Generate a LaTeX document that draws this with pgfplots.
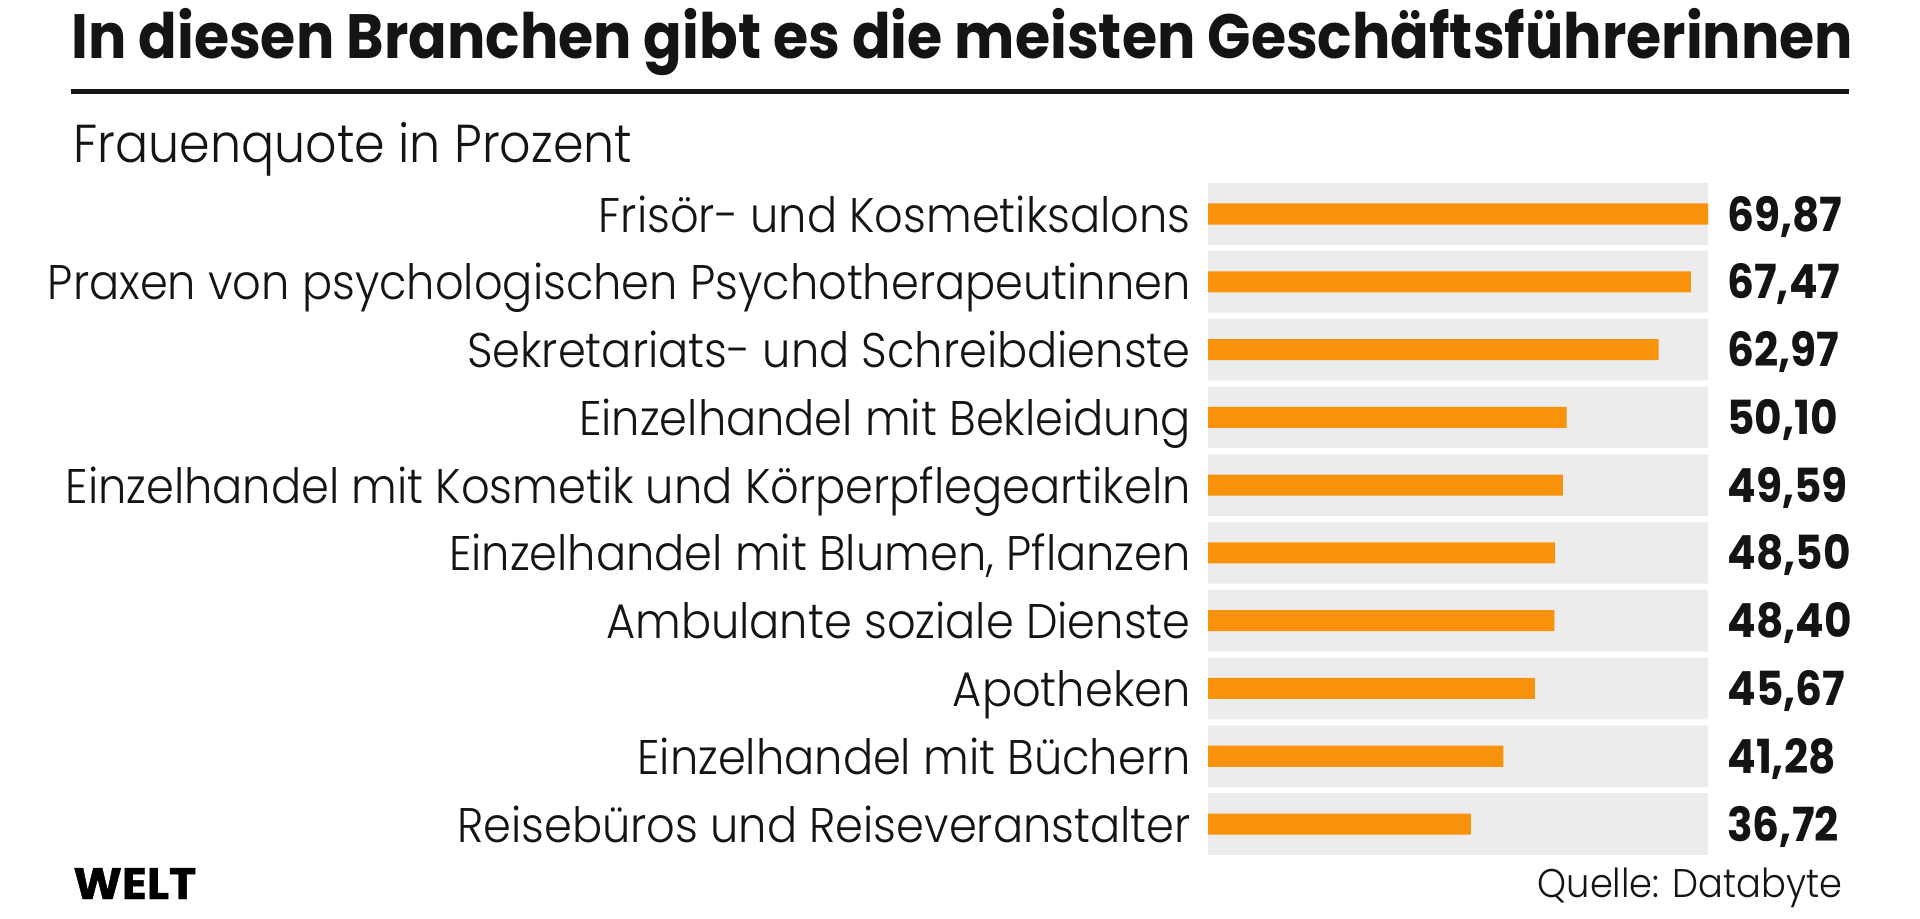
\documentclass[border=0pt]{standalone}
\usepackage{pgfplots}
\usepackage{pgfplotstable}
\usepackage{fontspec}
\pgfplotsset{compat=1.18}
\newfontfamily\titlefont[FakeStretch=0.91]{Poppins Bold}
\newfontfamily\logofont[FakeStretch=1.05, FakeBold=1]{Poppins Bold}
\newfontfamily\boldfont[FakeStretch=0.9]{Poppins Bold}
\newfontfamily\lightfont[FakeStretch=0.92]{Poppins Light}
\definecolor{bandgray}{RGB}{236,236,236}
\definecolor{barorange}{RGB}{247,146,10}
\definecolor{txt}{RGB}{20,20,20}

\pgfplotstableread{
idx val full lab
0 69.87 69.87 69,87
1 67.47 69.87 67,47
2 62.97 69.87 62,97
3 50.10 69.87 50,10
4 49.59 69.87 49,59
5 48.50 69.87 48,50
6 48.40 69.87 48,40
7 45.67 69.87 45,67
8 41.28 69.87 41,28
9 36.72 69.87 36,72
}\data

\begin{document}
\begin{tikzpicture}
\useasboundingbox (0,0) rectangle (960pt,459pt);
% title
\node[anchor=base west, inner sep=0pt, text=txt] at (35.5pt,429.5pt)
  {\titlefont\fontsize{31.3}{31.3}\selectfont In diesen Branchen gibt es die meisten Geschäftsführerinnen};
\draw[line width=2.6pt, txt] (35.5pt,413.3pt) -- (924.5pt,413.3pt);
\node[anchor=base west, inner sep=0pt, text=txt] at (36.5pt,377.5pt)
  {\lightfont\fontsize{26.7}{26.7}\selectfont Frauenquote in Prozent};
% footer
\node[anchor=base west, inner sep=0pt, text=black] at (36.5pt,9.5pt)
  {\logofont\fontsize{22}{22}\selectfont WELT};
\node[anchor=base east, inner sep=0pt, text=txt] at (921.5pt,10.2pt)
  {\lightfont\fontsize{20}{20}\selectfont Quelle: Databyte};

\begin{axis}[
  at={(604pt,30.05pt)}, anchor=south west,
  width=250pt, height=338.9pt, scale only axis,
  xmin=0, xmax=69.87, ymin=-0.5, ymax=9.5,
  y dir=reverse,
  axis line style={draw=none},
  xtick=\empty,
  ytick={0,1,2,3,4,5,6,7,8,9},
  yticklabels={Frisör- und Kosmetiksalons,
    Praxen von psychologischen Psychotherapeutinnen,
    Sekretariats- und Schreibdienste,
    Einzelhandel mit Bekleidung,
    Einzelhandel mit Kosmetik und Körperpflegeartikeln,
    {Einzelhandel mit Blumen, Pflanzen},
    Ambulante soziale Dienste,
    Apotheken,
    Einzelhandel mit Büchern,
    Reisebüros und Reiseveranstalter},
  major tick length=0pt,
  yticklabel style={font=\lightfont\fontsize{24.3}{24.3}\selectfont, text=txt,
    anchor=base east, inner sep=0pt, xshift=-8.5pt, yshift=-9pt},
  clip=false,
]
\addplot[xbar, bar shift=0pt, bar width=0.91, fill=bandgray, draw=none,
  nodes near coords, point meta=explicit symbolic,
  every node near coord/.style={anchor=base west, inner sep=0pt, xshift=9.5pt, yshift=-8.5pt,
    font=\boldfont\fontsize{23.5}{23.5}\selectfont, text=txt}]
  table[x=full, y=idx, meta=lab] {\data};
\addplot[xbar, bar shift=0pt, bar width=0.31, fill=barorange, draw=none]
  table[x=val, y=idx] {\data};
\end{axis}
\end{tikzpicture}
\end{document}
